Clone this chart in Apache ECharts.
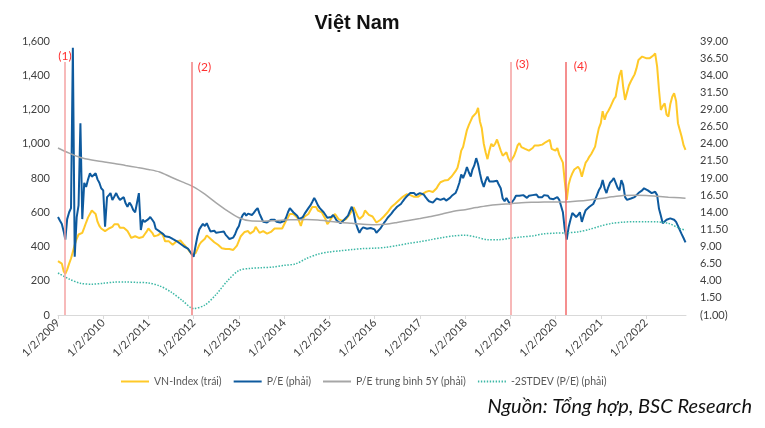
<!DOCTYPE html>
<html><head><meta charset="utf-8">
<script src="https://cdn.jsdelivr.net/npm/echarts@6/dist/echarts.min.js"></script>
<style>html,body{margin:0;padding:0;background:#fff}#c{width:765px;height:428px}</style>
</head><body><div id="c"></div><script>
// VN-Index (left axis), semi-monthly samples (1st and 16th of each month)
const vn2009 = [315,305,300,255,240,265,300,330,370,410,445,470,460,480,510,540,570,590,610,620,590,545,520,505];
const vn2010 = [500,490,500,505,500,515,530,540,530,510,505,510,500,490,470,450,455,460,455,450,455,455,470,485];
const vn2011 = [505,500,480,460,460,465,475,480,460,430,420,430,420,410,415,430,430,435,425,410,400,385,375,355];
const vn2012 = [345,360,385,410,425,435,445,465,475,445,435,425,420,410,400,390,395,385,390,385,380,380,385,405];
const vn2013 = [415,460,470,485,480,490,475,475,490,515,510,480,475,490,490,475,470,485,495,505,505,505,505,505];
const vn2014 = [510,550,570,590,600,590,590,570,550,520,560,575,580,590,600,630,640,630,610,600,600,580,560,530];
const vn2015 = [545,565,575,590,585,560,555,550,545,560,570,590,600,630,620,580,560,565,580,610,600,585,575,575];
const vn2016 = [575,540,545,555,565,575,585,600,615,630,640,650,660,670,680,690,700,705,700,700,695,690,685,690];
const vn2017 = [690,705,712,718,720,725,720,718,725,740,760,775,780,785,790,788,795,810,820,840,860,905,960,981];
const vn2018 = [985,1080,1110,1121,1156,1150,1180,1209,1130,1090,1000,950,910,960,1000,985,1000,1025,1030,960,930,920,950,915];
const vn2019 = [893,900,930,960,990,1004,980,975,970,965,960,965,975,990,985,990,980,995,1000,1010,1015,1022,970,960];
const vn2020 = [960,975,935,945,890,780,672,760,800,827,850,860,866,850,808,850,890,905,925,940,950,983,1040,1090];
const vn2021 = [1120,1190,1140,1175,1190,1210,1236,1260,1275,1340,1400,1430,1330,1256,1300,1340,1365,1385,1405,1440,1489,1500,1509,1518];
const vn2022 = [1500,1489,1500,1509,1515,1528,1450,1314,1197,1220,1236,1170,1158,1230,1275,1295,1250,1120,1080,1041,990,964];

// P/E (right axis), same dates
const pe2009 = [13.3,12.8,12.3,11.2,10.0,13.0,14.0,14.6,38.0,7.5,13.3,15.0,27.0,13.0,18.3,17.7,18.8,19.7,19.2,19.4,19.7,18.8,18.3,17.5];
const pe2010 = [17.2,11.9,16.2,16.5,16.8,15.8,16.3,16.8,16.2,15.8,16.0,16.2,15.3,14.8,15.4,15.0,14.3,14.0,13.9,16.8,11.4,12.9,12.6,12.4];
const pe2011 = [13.0,13.3,12.9,12.5,11.6,11.4,11.2,11.0,10.8,10.5,10.7,10.4,10.3,10.1,10.0,9.8,9.6,9.4,9.2,9.0,8.9,8.7,8.5,7.9];
const pe2012 = [7.5,9.0,10.5,11.5,11.9,12.3,12.0,12.4,11.8,11.2,11.0,11.3,11.0,10.8,11.1,10.9,11.2,10.7,10.4,10.1,10.0,10.3,10.8,11.5];
const pe2013 = [12.0,13.0,13.6,13.9,13.5,13.8,14.0,13.6,13.9,14.3,14.6,13.8,13.2,12.6,12.8,12.5,12.7,12.9,12.7,12.9,12.6,12.8,12.5,12.6];
const pe2014 = [12.7,13.2,14.0,14.6,14.4,14.0,13.8,13.5,13.0,12.8,13.3,13.8,14.2,14.6,15.0,15.5,16.1,15.6,15.0,14.6,14.4,14.0,13.6,13.2];
const pe2015 = [13.0,13.3,13.6,13.2,12.8,12.6,12.4,12.6,12.9,13.0,13.5,14.2,14.8,14.0,12.5,11.7,11.0,11.5,11.8,11.9,11.6,11.4,11.7,11.5];
const pe2016 = [11.5,11.0,11.2,11.6,12.0,12.4,12.8,13.2,13.4,13.8,14.2,14.5,14.8,15.0,15.2,15.6,16.0,16.3,16.5,16.8,17.0,16.8,16.5,16.6];
const pe2017 = [16.8,17.0,16.6,16.2,15.9,15.6,15.5,15.4,15.7,16.0,16.2,15.8,15.6,16.0,15.7,15.9,16.1,16.4,16.5,16.8,17.5,18.3,19.5,19.0];
const pe2018 = [19.7,20.6,19.8,19.2,20.2,20.8,21.9,21.0,19.7,18.5,17.7,18.6,19.2,18.5,18.3,18.5,18.7,18.6,18.0,17.5,16.0,15.6,16.1,15.6];
const pe2019 = [15.2,15.5,15.9,16.4,16.6,16.4,16.2,16.5,16.3,16.1,16.4,16.2,16.5,16.3,16.6,16.2,16.4,16.2,16.5,16.3,16.4,16.0,16.2,15.9];
const pe2020 = [16.0,16.2,15.8,16.0,14.0,11.5,10.0,11.8,12.9,13.9,13.6,13.3,13.6,14.0,12.6,13.5,14.3,14.5,14.8,15.0,15.2,15.8,16.5,17.2];
const pe2021 = [17.7,18.7,17.5,16.8,17.6,18.3,18.6,19.0,19.2,17.6,17.2,18.7,18.0,16.2,15.8,15.9,16.0,16.1,16.2,16.5,16.8,17.0,17.2,17.5];
const pe2022 = [17.5,17.2,17.0,16.8,17.0,17.0,16.5,14.5,13.5,12.4,12.6,12.9,12.9,13.1,13.3,12.9,12.6,12.0,11.4,10.8,10.2,9.6];

// P/E 5Y average and -2STDEV (right axis), quarterly samples
const peAvg = [23.38,22.63,22.0,21.63, 21.38,21.13,20.83,20.55, 20.25,19.88,19.15,18.43, 17.7,16.63,15.38,14.2,
  13.2,12.75,12.7,12.75, 12.88,12.9,12.95,12.88, 12.7,12.5,12.38,12.25, 12.18,12.25,12.5,12.8,
  13.08,13.38,13.75,14.13, 14.38,14.68,14.95,15.13, 15.25,15.38,15.45,15.5, 15.5,15.5,15.63,15.8,
  16.0,16.25,16.45,16.5, 16.45,16.33,16.2,16.1, 16.05];
const peMinus2Sd = [5.13,4.25,3.63,3.5, 3.63,3.8,3.83,3.75, 3.68,3.25,2.38,1.13, -0.05,0.45,2.0,4.0,
  5.5,5.8,5.9,6.0, 6.25,6.45,7.25,7.88, 8.2,8.38,8.55,8.7, 8.75,8.88,9.13,9.45,
  9.7,10.0,10.3,10.55, 10.65,10.38,10.0,10.0, 10.2,10.4,10.55,10.85, 10.95,11.0,11.13,11.5,
  12.0,12.38,12.55,12.63, 12.63,12.6,12.38,11.63, 11.38];

const tickYears = [2009,2010,2011,2012,2013,2014,2015,2016,2017,2018,2019,2020,2021,2022];
const eventDates = [[2009,1,26],[2011,11,21],[2019,0,8],[2020,2,20]];
const eventLabels = ['(1)','(2)','(3)','(4)'];
const legendNames = ['VN-Index (trái)','P/E (phải)','P/E trung bình 5Y (phải)','-2STDEV (P/E) (phải)'];

const vnIndex = [].concat(vn2009,vn2010,vn2011,vn2012,vn2013,vn2014,vn2015,vn2016,vn2017,vn2018,vn2019,vn2020,vn2021,vn2022);
const pe = [].concat(pe2009,pe2010,pe2011,pe2012,pe2013,pe2014,pe2015,pe2016,pe2017,pe2018,pe2019,pe2020,pe2021,pe2022);

const semiDates = [];
for (let y = 2009; y <= 2022; y++) for (let m = 0; m < 12; m++) for (const d of [1,16]) {
  if (semiDates.length < vnIndex.length) semiDates.push(new Date(y, m, d).getTime());
}
const quarterDates = [];
for (let y = 2009; y <= 2022; y++) for (const m of [0,3,6,9]) quarterDates.push(new Date(y, m, 1).getTime());
quarterDates.push(new Date(2022, 10, 16).getTime());

const zip = (xs, ys) => ys.map((v, i) => [xs[i], v]);
const ticks = tickYears.map(y => new Date(y, 0, 2).getTime());
const evT = eventDates.map(d => new Date(d[0], d[1], d[2]).getTime());
const evColors = ['#F5A3A3','#F28080','#F5A0A0','#F26A6A'];
const labelPos = [
  {y:1510, position:'inside', distance:0},
  {y:1448, position:'right', distance:5},
  {y:1466, position:'right', distance:4},
  {y:1454, position:'right', distance:8}
];

// legend icons: plain line, and a dotted line for -2STDEV
const lineIcon = 'path://M0,0h28v2h-28z';
let dots = '';
for (let k = 0; k < 10; k++) dots += 'M' + (k * 3) + ',0h1.4v2h-1.4z';
const dotIcon = 'path://' + dots;

const font = 'Lato, "Liberation Sans", sans-serif';
const chart = echarts.init(document.getElementById('c'), null, {renderer:'canvas'});
chart.setOption({
  animation: false,
  backgroundColor: '#ffffff',
  title: {
    text: 'Việt Nam', left: 352, top: 8, textAlign: 'center',
    textStyle: {fontFamily: '"Liberation Sans", Arial, sans-serif', fontSize: 20, fontWeight: 'bold', color: '#111'}
  },
  grid: {left: 58, right: 79, top: 41, bottom: 113, containLabel: false, outerBoundsMode: 'none'},
  legend: {
    left: 116, top: 371, itemWidth: 28, itemHeight: 2, itemGap: 12,
    textStyle: {fontFamily: font, fontSize: 10.5, color: '#595959'},
    data: [
      {name: legendNames[0], icon: lineIcon},
      {name: legendNames[1], icon: lineIcon},
      {name: legendNames[2], icon: lineIcon},
      {name: legendNames[3], icon: dotIcon}
    ]
  },
  xAxis: {
    type: 'value',
    min: new Date(2009, 0, 1).getTime(),
    max: new Date(2022, 10, 20).getTime(),
    axisLine: {show: true, lineStyle: {color: '#D9D9D9', width: 1}},
    axisTick: {show: true, customValues: ticks, length: 4, lineStyle: {color: '#D9D9D9'}},
    splitLine: {show: false},
    axisLabel: {
      customValues: ticks, rotate: 45, margin: 6,
      fontFamily: font, fontSize: 11, color: '#404040',
      formatter: v => { const d = new Date(v); return (d.getMonth()+1) + '/' + d.getDate() + '/' + d.getFullYear(); }
    }
  },
  yAxis: [
    {
      type: 'value', min: 0, max: 1600, interval: 200,
      axisLine: {show: false}, axisTick: {show: false}, splitLine: {show: false},
      axisLabel: {margin: 8, fontFamily: font, fontSize: 11, color: '#404040',
        formatter: v => v.toLocaleString('en-US')}
    },
    {
      type: 'value', min: -1, max: 39, interval: 2.5, position: 'right',
      axisLine: {show: false}, axisTick: {show: false}, splitLine: {show: false},
      axisLabel: {margin: 14, fontFamily: font, fontSize: 11, color: '#404040',
        formatter: v => v < 0 ? '(' + Math.abs(v).toFixed(2) + ')' : v.toFixed(2)}
    }
  ],
  series: [
    {
      name: legendNames[0], type: 'line', yAxisIndex: 0, symbol: 'none',
      data: zip(semiDates, vnIndex),
      lineStyle: {color: '#FFC928', width: 2}, itemStyle: {color: '#FFC928'},
      markLine: {
        silent: true, symbol: ['none','none'], label: {show: false},
        data: evT.map((t, i) => [
          {coord: [t, 0], lineStyle: {color: evColors[i], width: 1.5, type: 'solid'}},
          {coord: [t, 1478]}
        ])
      },
      markPoint: {
        silent: true, symbol: 'circle', symbolSize: 1,
        itemStyle: {color: 'rgba(0,0,0,0)'},
        data: evT.map((t, i) => ({
          coord: [t, labelPos[i].y],
          label: {show: true, formatter: eventLabels[i], position: labelPos[i].position,
            distance: labelPos[i].distance, color: '#FF3030', fontFamily: font, fontSize: 12}
        }))
      }
    },
    {
      name: legendNames[1], type: 'line', yAxisIndex: 1, symbol: 'none',
      data: zip(semiDates, pe),
      lineStyle: {color: '#0E5A9E', width: 2}, itemStyle: {color: '#0E5A9E'}
    },
    {
      name: legendNames[2], type: 'line', yAxisIndex: 1, symbol: 'none', smooth: 0.3,
      data: zip(quarterDates, peAvg),
      lineStyle: {color: '#A6A6A6', width: 1.5}, itemStyle: {color: '#A6A6A6'}
    },
    {
      name: legendNames[3], type: 'line', yAxisIndex: 1, symbol: 'none', smooth: 0.3,
      data: zip(quarterDates, peMinus2Sd),
      lineStyle: {color: '#3DB8A6', width: 1.5, type: 'dotted'}, itemStyle: {color: '#3DB8A6'}
    }
  ],
  graphic: [{
    type: 'text', right: 13, top: 397,
    style: {text: 'Nguồn: Tổng hợp, BSC Research', fontFamily: font, fontStyle: 'italic', fontSize: 20, fill: '#111'}
  }]
});
</script></body></html>
